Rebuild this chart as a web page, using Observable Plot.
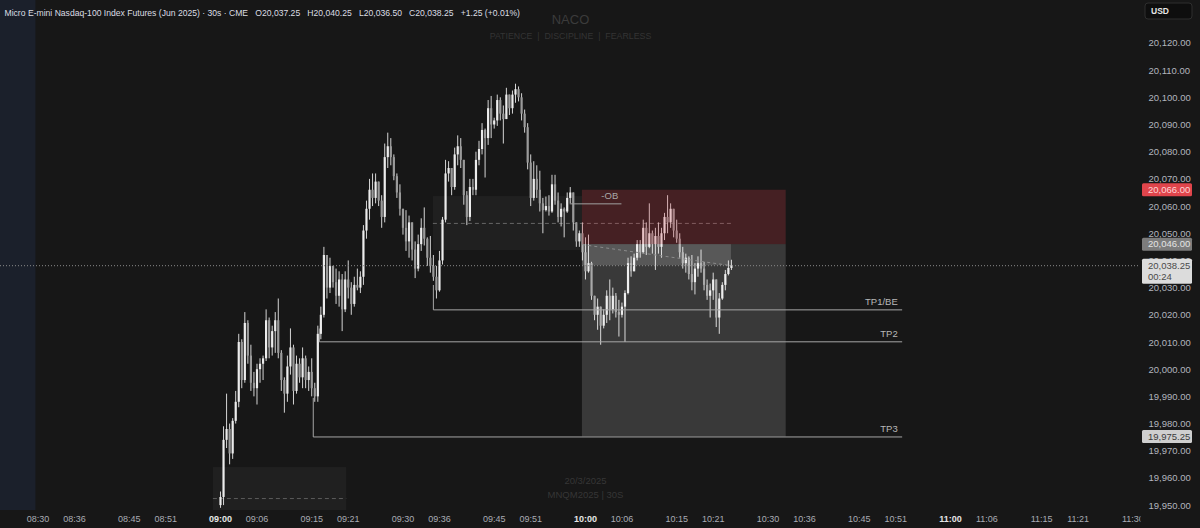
<!DOCTYPE html>
<html><head><meta charset="utf-8">
<script src="https://cdn.jsdelivr.net/npm/d3@7"></script>
<script src="https://cdn.jsdelivr.net/npm/@observablehq/plot@0.6"></script>
<style>
html,body{margin:0;padding:0;background:#171717;}
#chart{width:1200px;height:528px;overflow:hidden;}
svg text{white-space:pre;}
</style></head><body><div id="chart"></div>
<script>
// ---- data (30-second bars from 09:00:00) ----
const firstBar = "09:00:00";
const barMinutes = 0.5;
const opens = [
19950,19953,19974,19978,19969,19981,19988,20010,19996,20017,
20005,19995,19993,20000,20002,20004,20018,20008,20014,20018,
20006,19996,19991,20001,20008,19992,20002,19997,20004,19996,
19999,19993,19990,20013,20020,20042,20030,20038,20032,20027,
20033,20022,20033,20030,20024,20031,20030,20034,20051,20059,
20066,20063,20069,20062,20056,20078,20082,20078,20071,20065,
20059,20052,20047,20054,20044,20037,20046,20052,20048,20041,
20038,20034,20029,20040,20055,20072,20074,20067,20079,20082,
20077,20064,20056,20067,20066,20077,20081,20088,20085,20096,
20090,20091.5,20099,20094,20092,20101,20096,20101,20103,20100,
20094,20089,20076,20063,20070,20066,20061,20058.5,20060,20058,
20068,20062,20056,20059,20058,20063,20065,20054,20047,20050,
20043,20036,20039,20027,20020,20023,20016,20020,20027,20022,
20027,20021,20020,20023,20028,20039,20036,20041,20046,20043,
20052,20045,20050,20046,20049,20045,20050,20056,20054,20059,
20051,20048,20043,20039,20041,20035,20032,20037,20039,20037,
20031,20027,20029,20033,20019,20026,20031,20035,20037.25];
const highs = [
19955,19979,19991,19980,19982,19992,20013,20011,20021,20018,
20009,19999,20002,20004,20005,20022,20019,20016,20021,20026,
20007,19997,20005,20015,20009,20005,20004,20008,20005,20001,
20004,19995,20016,20023,20045,20042,20041,20038,20037,20036,
20035,20036,20040,20032,20034,20037,20036,20053,20062,20070,
20072,20072,20069,20064,20083,20087,20085,20079,20072,20068,
20059,20058.5,20056.5,20054,20047,20049.5,20055.5,20059.5,20048.5,20049,
20042,20038,20043.5,20056,20077,20076.5,20074,20081.5,20086,20085,
20077,20065.5,20070,20070,20080,20084,20090.5,20088.5,20099,20100.5,
20092.5,20101,20100,20097,20103.5,20101,20102.5,20105,20104,20101.5,
20095.5,20090.5,20079,20076.5,20075,20073,20063,20063.5,20064,20071.5,
20071.5,20065,20061,20059.5,20065,20067,20065,20054,20051,20054,
20048.5,20049.5,20039.5,20027,20026,20023,20022,20029,20033,20030,
20028,20025.5,20024.5,20029,20041,20041.5,20042.5,20047.5,20047.5,20055,
20054,20061,20051,20052,20054,20052,20057.5,20064,20061,20059,
20055,20050,20045,20042.5,20041.5,20042,20039,20041.5,20044,20039.5,
20033,20031.5,20035.5,20033,20028,20032,20036.5,20040,20040.25];
const lows = [
19949,19950,19971,19965,19967,19980,19986,19993,19995,20002,
19992,19990,19987,19995,19996,20003,20004,20005,20006,20004,
19992,19984,19988,19998,19987,19991,19995,19993,19993,19992,
19990,19988,19988,20011,20019,20026,20028,20030,20024,20023,
20014,20021,20026,20020,20023,20029,20028,20031,20048,20055,
20060,20061,20060,20052,20054,20074,20075,20069.5,20063,20056.5,
20049.5,20043.5,20041,20040,20033.5,20036,20043.5,20045.5,20038,20035.5,
20032.5,20026,20028.5,20038.5,20054,20069,20064,20066,20075,20074,
20060.5,20053,20054.5,20064,20064,20075,20079,20070.5,20082.5,20085,
20088.5,20089.5,20091.5,20083,20092,20093.5,20094,20098,20098.5,20091.5,
20087,20073.5,20060,20062,20063,20058,20050,20058,20056.5,20057.5,
20060.5,20054,20052.5,20048.5,20057.5,20061,20051,20045,20045,20040,
20033,20035.5,20025.5,20018,20014.5,20009,20015,20017,20018,20020.5,
20019,20012,20019,20010,20027.5,20034,20036,20040,20041,20042.5,
20042,20044.5,20042.5,20036.5,20042.5,20041,20047.5,20050,20052,20048.5,
20046.5,20041,20037,20035.5,20033,20029,20027.5,20034,20035.5,20029,
20025.5,20019,20025.5,20015.5,20013,20025.5,20029,20034.5,20036.5];
const closes = [
19953,19974,19978,19969,19981,19988,20010,19996,20017,20005,
19995,19993,20000,20002,20004,20018,20008,20014,20018,20006,
19996,19991,20001,20008,19992,20002,19997,20004,19996,19999,
19993,19990,20013,20020,20042,20030,20038,20032,20027,20033,
20022,20033,20030,20024,20031,20030,20034,20051,20059,20066,
20063,20069,20062,20056,20078,20082,20078,20071,20065,20059,
20052,20047,20054,20044,20037,20046,20052,20048,20041,20038,
20034,20029,20040,20055,20072,20074,20067,20079,20082,20077,
20064,20056,20067,20066,20077,20081,20088,20085,20096,20090,
20091.5,20099,20094,20092,20101,20096,20101,20103,20100,20094,
20089,20076,20063,20070,20066,20061,20058.5,20060,20058,20068,
20062,20056,20059,20058,20063,20065,20054,20047,20050,20043,
20036,20039,20027,20020,20023,20016,20020,20027,20022,20027,
20021,20020,20023,20028,20039,20036,20041,20046,20043,20052,
20045,20050,20046,20049,20045,20050,20056,20054,20059,20051,
20048,20043,20039,20041,20035,20032,20037,20039,20037,20031,
20027,20029,20033,20019,20026,20031,20035,20037.25,20038.25];

// axis ticks
const timeTicks = ["08:30","08:36","08:45","08:51","09:06","09:15","09:21","09:30","09:36","09:45","09:51",
  "10:06","10:15","10:21","10:30","10:36","10:45","10:51","11:06","11:15","11:21","11:30"];
const hourTicks = ["09:00","10:00","11:00"];
const priceTicks = [19950,19960,19970,19980,19990,20000,20010,20020,20030,20040,20050,20060,20070,20080,20090,20100,20110,20120];

// drawings
const tpNames = ["TP1/BE","TP2","TP3"];
const tpStart = ["09:35:00","09:16:15","09:15:15"];
const tpFrom  = [20031, 20015, 19989.5];
const tpLevel = [20022, 20010.25, 19975.25];
const tpEnd = "10:52:00";
const entryTime = "09:59:30", positionEnd = "10:33:00", lastBarTime = "10:24:00";
const entryPrice = 20046, stopPrice = 20066, targetPrice = 19975.25, lastPrice = 20038.25;
const obBox = {start: "09:35:00", end: "09:59:30", top: 20063.7, bottom: 20043.8, mid: 20053.8, midEnd: "10:24:00"};
const lowBox = {start: "08:58:50", end: "09:20:45", top: 19964, bottom: 19930, mid: 19952.6};
const obLine = {start: "09:57:30", end: "10:06:00", price: 20061, labelTime: "10:04:00"};
const preSession = {start: "08:00:00", end: "08:29:40"};
const viewStart = "08:23:50", viewEnd = "11:31:15";
const viewLow = 19948.2, viewHigh = 20135.8;

// ---- helpers ----
const toMin = s => { const p = s.split(":").map(Number); return p[0]*60 + p[1] + (p[2]||0)/60; };
const hhmm = m => String(Math.floor(m/60)).padStart(2,"0") + ":" + String(Math.round(m%60)).padStart(2,"0");
const f2 = d3.format(",.2f");

const t0 = toMin(firstBar);
const bars = opens.map((o,i) => ({t: t0 + i*barMinutes, o, h: highs[i], l: lows[i], c: closes[i]}));
const last = bars[bars.length-1];

const tpPts = [];
tpNames.forEach((n,i) => {
  tpPts.push({n, x: toMin(tpStart[i]), y: tpFrom[i]});
  tpPts.push({n, x: toMin(tpStart[i]), y: tpLevel[i]});
  tpPts.push({n, x: toMin(tpEnd), y: tpLevel[i]});
});
const tpLabels = tpNames.map((n,i) => ({n, x: toMin(tpEnd), y: tpLevel[i]}));

const header = `Micro E-mini Nasdaq-100 Index Futures (Jun 2025) · 30s · CME   O${f2(last.o)}   H${f2(last.h)}   L${f2(last.l)}   C${f2(last.c)}   +1.25 (+0.01%)`;
const FONT = "'Liberation Sans', Arial, Helvetica, sans-serif";

const chart = Plot.plot({
  width: 1200, height: 528,
  marginLeft: 0, marginRight: 60, marginTop: 0, marginBottom: 18,
  style: {background: "#171717", color: "#b2b5be", fontFamily: FONT, overflow: "visible"},
  x: {type: "linear", domain: [toMin(viewStart), toMin(viewEnd)], axis: null},
  y: {type: "linear", domain: [viewLow, viewHigh], axis: null},
  marks: [
    Plot.rect([preSession], {x1: d => toMin(d.start), x2: d => toMin(d.end), fill: "#1b202b", clip: true}),
    // boxes
    Plot.rect([obBox], {x1: d => toMin(d.start), x2: d => toMin(d.end), y1: "bottom", y2: "top", fill: "#ffffff", fillOpacity: 0.04}),
    Plot.rect([lowBox], {x1: d => toMin(d.start), x2: d => toMin(d.end), y1: "bottom", y2: "top", fill: "#ffffff", fillOpacity: 0.04, clip: true}),
    Plot.ruleY([obBox], {y: "mid", x1: d => toMin(d.start), x2: d => toMin(d.midEnd), stroke: "#666666", strokeDasharray: "4,3"}),
    Plot.ruleY([lowBox], {y: "mid", x1: d => toMin(d.start), x2: d => toMin(d.end), stroke: "#5a5a5a", strokeDasharray: "4,3"}),
    // candles
    Plot.ruleX(bars, {x: "t", y1: "l", y2: "h", stroke: "#d4d4d4", strokeWidth: 1}),
    Plot.ruleX(bars, {x: "t", y1: "o", y2: d => (d.c === d.o ? d.c + 0.35 : d.c), stroke: d => d.c >= d.o ? "#ececec" : "#9a9a9a", strokeWidth: 2.2}),
    // position tool
    Plot.rect([{}], {x1: toMin(entryTime), x2: toMin(positionEnd), y1: entryPrice, y2: stopPrice, fill: "#d8404a", fillOpacity: 0.24}),
    Plot.rect([{}], {x1: toMin(entryTime), x2: toMin(positionEnd), y1: targetPrice, y2: entryPrice, fill: "#ffffff", fillOpacity: 0.15}),
    Plot.rect([{}], {x1: toMin(entryTime), x2: toMin(lastBarTime), y1: lastPrice, y2: entryPrice, fill: "#ffffff", fillOpacity: 0.16}),
    Plot.link([{}], {x1: toMin(entryTime), y1: entryPrice, x2: toMin(lastBarTime), y2: lastPrice, stroke: "#8a8a8a", strokeDasharray: "3,3", strokeWidth: 1}),
    // TP lines
    Plot.line(tpPts, {x: "x", y: "y", z: "n", stroke: "#a6a6a6", strokeWidth: 1}),
    Plot.text(tpLabels, {x: "x", y: "y", text: "n", textAnchor: "end", dx: -4, dy: -8, fill: "#b8b8b8", fontSize: 9.5}),
    // -OB line
    Plot.ruleY([obLine], {y: "price", x1: d => toMin(d.start), x2: d => toMin(d.end), stroke: "#a0a0a0"}),
    Plot.text([obLine], {x: d => toMin(d.labelTime), y: "price", text: () => "-OB", dy: -8, fill: "#a8a8a8", fontSize: 9.5}),
    // current price
    Plot.ruleY([lastPrice], {stroke: "#8a8a8a", strokeDasharray: "1,2", strokeWidth: 1}),
    // watermark & header
    Plot.text(["NACO"], {frameAnchor: "top", dy: 14, fontSize: 13, fill: "#3b3b3b"}),
    Plot.text(["PATIENCE  |  DISCIPLINE  |  FEARLESS"], {frameAnchor: "top", dy: 32, fontSize: 8.8, fill: "#343434"}),
    Plot.text(["20/3/2025"], {frameAnchor: "bottom", dx: 15, dy: -27, fontSize: 9.5, fill: "#363636"}),
    Plot.text(["MNQM2025 | 30S"], {frameAnchor: "bottom", dx: 15, dy: -13, fontSize: 9.5, fill: "#363636"}),
    Plot.text([header], {frameAnchor: "top-left", dx: 4, dy: 9, textAnchor: "start", fontSize: 8.6, fill: "#dcdee4"}),
    // axes
    Plot.axisX(timeTicks.map(toMin), {anchor: "bottom", tickSize: 0, tickPadding: 5, tickFormat: hhmm, fontSize: 9, color: "#a9acb4"}),
    Plot.axisX(hourTicks.map(toMin), {anchor: "bottom", tickSize: 0, tickPadding: 5, tickFormat: hhmm, fontSize: 9, fontWeight: "bold", color: "#e6e6e6"}),
    Plot.axisY(priceTicks, {anchor: "right", tickSize: 0, tickPadding: 8, tickFormat: f2, fontSize: 9.5, color: "#b2b5be"})
  ]
});

document.getElementById("chart").appendChild(chart);

// ---- price-scale badges (positioned with Plot's y scale) ----
const ys = chart.scale("y");
const Y = ys.apply ? (v => ys.apply(v)) : d3.scaleLinear(ys.domain, ys.range);
const svg = d3.select(chart);
const defs = svg.append("defs");
defs.append("clipPath").attr("id", "paneclip").append("rect").attr("x", -10).attr("y", -1000).attr("width", 1150).attr("height", 3000);
svg.selectAll('g[aria-label="x-axis tick label"]').attr("clip-path", "url(#paneclip)");

const g = svg.append("g").attr("font-family", FONT).attr("font-size", 9.5).attr("text-anchor", "start");
function badge(price, lines, bg, fg) {
  const y = Y(price);
  const h = lines.length > 1 ? 25 : 13;
  g.append("rect").attr("x", 1142).attr("y", y - 6.5).attr("width", 50).attr("height", h).attr("rx", 1.5).attr("fill", bg);
  lines.forEach((t, k) => g.append("text").attr("x", 1148).attr("y", y + k * 11).attr("dy", "0.35em").attr("text-anchor", "start").attr("fill", fg).text(t));
}
badge(stopPrice, [f2(stopPrice)], "#e0454c", "#ffd6d8");
badge(entryPrice, [f2(entryPrice)], "#7c7c7c", "#e4e4e4");
badge(targetPrice, [f2(targetPrice)], "#cfcfcf", "#3a3a3a");
badge(lastPrice, [f2(lastPrice), "00:24"], "#dcdcdc", "#4a4a4a");

g.append("rect").attr("x", 1145).attr("y", 3).attr("width", 47).attr("height", 16).attr("rx", 3).attr("fill", "#0e0e0e").attr("stroke", "#2e2e2e");
g.append("text").attr("x", 1151).attr("y", 11).attr("dy", "0.35em").attr("text-anchor", "start").attr("font-size", 8.5).attr("font-weight", "bold").attr("fill", "#e6e6e6").text("USD");
</script></body></html>
